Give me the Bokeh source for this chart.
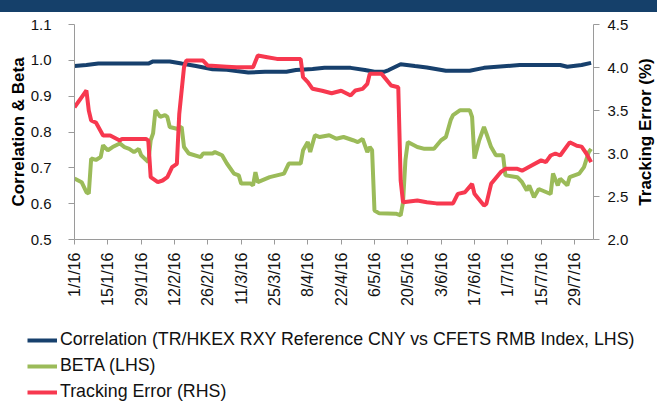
import pandas as pd
from bokeh.plotting import figure
from bokeh.models import (Range1d, LinearAxis, FixedTicker, NumeralTickFormatter,
                          Legend, LegendItem, Div)
from bokeh.layouts import column, row
from bokeh.embed import file_html
from bokeh.resources import INLINE

START = "2016-01-01"
X_END = "2016-08-06"

corr_dates = ["2016-01-01", "2016-01-06", "2016-01-11", "2016-02-01", "2016-02-03", "2016-02-10",
              "2016-02-15", "2016-02-21", "2016-02-28", "2016-03-05", "2016-03-09", "2016-03-14",
              "2016-03-21", "2016-03-30", "2016-04-03", "2016-04-10", "2016-04-15", "2016-04-26",
              "2016-05-02", "2016-05-06", "2016-05-10", "2016-05-12", "2016-05-17", "2016-05-23",
              "2016-05-28", "2016-06-05", "2016-06-15", "2016-06-21", "2016-07-06", "2016-07-23",
              "2016-07-26", "2016-08-01", "2016-08-05"]
corr_values = [0.984, 0.987, 0.991, 0.991, 0.997, 0.997, 0.991, 0.984, 0.975, 0.974, 0.970, 0.966,
               0.968, 0.968, 0.973, 0.976, 0.979, 0.979, 0.973, 0.968, 0.968, 0.973, 0.989, 0.984,
               0.980, 0.971, 0.971, 0.979, 0.987, 0.987, 0.982, 0.987, 0.993]

beta_dates = ["2016-01-01", "2016-01-04", "2016-01-06", "2016-01-07", "2016-01-08", "2016-01-10",
              "2016-01-12", "2016-01-13", "2016-01-15", "2016-01-17", "2016-01-20", "2016-01-22",
              "2016-01-24", "2016-01-26", "2016-01-28", "2016-01-29", "2016-02-01", "2016-02-02",
              "2016-02-03", "2016-02-04", "2016-02-06", "2016-02-08", "2016-02-09", "2016-02-10",
              "2016-02-13", "2016-02-15", "2016-02-16", "2016-02-18", "2016-02-23", "2016-02-24",
              "2016-02-28", "2016-02-29", "2016-03-03", "2016-03-05", "2016-03-08", "2016-03-10",
              "2016-03-11", "2016-03-15", "2016-03-16", "2016-03-17", "2016-03-18", "2016-03-23",
              "2016-03-29", "2016-03-31", "2016-04-05", "2016-04-06", "2016-04-08", "2016-04-09",
              "2016-04-11", "2016-04-13", "2016-04-17", "2016-04-20", "2016-04-23", "2016-04-27",
              "2016-04-29", "2016-05-01", "2016-05-03", "2016-05-04", "2016-05-05", "2016-05-06",
              "2016-05-08", "2016-05-15", "2016-05-17", "2016-05-18", "2016-05-19", "2016-05-20",
              "2016-05-24", "2016-05-27", "2016-05-31", "2016-06-03", "2016-06-05", "2016-06-07",
              "2016-06-08", "2016-06-11", "2016-06-15", "2016-06-16", "2016-06-17", "2016-06-19",
              "2016-06-21", "2016-06-22", "2016-06-24", "2016-06-26", "2016-06-29", "2016-06-30",
              "2016-07-05", "2016-07-07", "2016-07-09", "2016-07-10", "2016-07-12", "2016-07-14",
              "2016-07-19", "2016-07-20", "2016-07-22", "2016-07-23", "2016-07-26", "2016-07-27",
              "2016-07-31", "2016-08-02", "2016-08-04", "2016-08-05"]
beta_values = [0.670, 0.660, 0.632, 0.628, 0.726, 0.722, 0.730, 0.763, 0.749, 0.758, 0.768, 0.758,
               0.753, 0.744, 0.753, 0.735, 0.716, 0.777, 0.796, 0.861, 0.842, 0.847, 0.842, 0.814,
               0.809, 0.814, 0.758, 0.740, 0.730, 0.740, 0.740, 0.744, 0.735, 0.712, 0.684, 0.679,
               0.656, 0.656, 0.651, 0.688, 0.660, 0.674, 0.684, 0.712, 0.712, 0.749, 0.772, 0.744,
               0.791, 0.786, 0.791, 0.781, 0.786, 0.777, 0.772, 0.781, 0.744, 0.758, 0.749, 0.581,
               0.573, 0.572, 0.567, 0.604, 0.721, 0.772, 0.758, 0.753, 0.753, 0.777, 0.786, 0.833,
               0.847, 0.861, 0.861, 0.842, 0.726, 0.777, 0.814, 0.796, 0.758, 0.735, 0.735, 0.679,
               0.674, 0.660, 0.637, 0.651, 0.618, 0.641, 0.627, 0.684, 0.651, 0.670, 0.651, 0.674,
               0.684, 0.702, 0.744, 0.753]

te_dates = ["2016-01-01", "2016-01-05", "2016-01-06", "2016-01-07", "2016-01-08", "2016-01-10",
            "2016-01-13", "2016-01-16", "2016-01-20", "2016-01-21", "2016-01-31", "2016-02-01",
            "2016-02-02", "2016-02-05", "2016-02-07", "2016-02-09", "2016-02-11", "2016-02-13",
            "2016-02-14", "2016-02-16", "2016-02-17", "2016-02-24", "2016-02-26", "2016-03-05",
            "2016-03-09", "2016-03-16", "2016-03-18", "2016-03-22", "2016-03-26", "2016-04-05",
            "2016-04-06", "2016-04-08", "2016-04-10", "2016-04-14", "2016-04-18", "2016-04-22",
            "2016-04-26", "2016-04-28", "2016-05-01", "2016-05-03", "2016-05-04", "2016-05-09",
            "2016-05-13", "2016-05-16", "2016-05-17", "2016-05-18", "2016-05-24", "2016-05-28",
            "2016-06-01", "2016-06-08", "2016-06-10", "2016-06-13", "2016-06-16", "2016-06-17",
            "2016-06-21", "2016-06-22", "2016-06-24", "2016-06-28", "2016-06-30", "2016-07-05",
            "2016-07-07", "2016-07-11", "2016-07-15", "2016-07-17", "2016-07-19", "2016-07-21",
            "2016-07-23", "2016-07-27", "2016-07-30", "2016-08-01", "2016-08-03", "2016-08-05"]
te_values = [3.538, 3.694, 3.733, 3.50, 3.384, 3.36, 3.21, 3.21, 3.151, 3.17, 3.17, 3.15,
             2.725, 2.667, 2.686, 2.725, 2.841, 2.88, 3.46, 4.003, 4.081, 4.081, 4.023, 4.01,
             4.003, 4.003, 4.14, 4.12, 4.10, 4.10, 3.887, 3.83, 3.752, 3.73, 3.70, 3.73,
             3.675, 3.733, 3.752, 3.81, 3.926, 3.926, 3.79, 3.77, 2.686, 2.434, 2.453, 2.434,
             2.42, 2.42, 2.531, 2.55, 2.647, 2.531, 2.395, 2.414, 2.647, 2.783, 2.822, 2.822,
             2.80, 2.86, 2.92, 2.90, 2.977, 3.00, 2.977, 3.13, 3.09, 3.08, 3.00, 2.90]

tick_dates = ["2016-01-01", "2016-01-15", "2016-01-29", "2016-02-12", "2016-02-26", "2016-03-11",
              "2016-03-25", "2016-04-08", "2016-04-22", "2016-05-06", "2016-05-20", "2016-06-03",
              "2016-06-17", "2016-07-01", "2016-07-15", "2016-07-29"]
tick_labels = ["1/1/16", "15/1/16", "29/1/16", "12/2/16", "26/2/16", "11/3/16", "25/3/16",
               "8/4/16", "22/4/16", "6/5/16", "20/5/16", "3/6/16", "17/6/16", "1/7/16",
               "15/7/16", "29/7/16"]
left_ticks = [0.5, 0.6, 0.7, 0.8, 0.9, 1.0, 1.1]
right_ticks = [2.0, 2.5, 3.0, 3.5, 4.0, 4.5]

series_names = ["Correlation (TR/HKEX RXY Reference CNY vs CFETS RMB Index, LHS)",
                "BETA (LHS)", "Tracking Error (RHS)"]
left_title = "Correlation & Beta"
right_title = "Tracking Error (%)"


def to_days(dates):
    t0 = pd.Timestamp(START)
    return [(pd.Timestamp(d) - t0).days for d in dates]


FONT = "Liberation Sans"
NAVY = "#17406D"
GREEN = "#9BBB59"
RED = "#F7384F"
AXIS = "#9A9A9A"
LW = 4
HALF_PI = 3.14159265 / 2

W = 657
TITLE_W = 26
BAR_H = 12
MAIN_H = 308
LEG_H = 83
MAIN_W = W - TITLE_W

p = figure(width=MAIN_W, height=MAIN_H, output_backend="svg", toolbar_location=None,
           x_range=Range1d(0, to_days([X_END])[0]), y_range=Range1d(0.5, 1.1),
           min_border_left=74, min_border_right=MAIN_W - 593, min_border_top=12,
           min_border_bottom=81, background_fill_color="white", border_fill_color="white")
p.frame_align = False
p.outline_line_color = None
p.xgrid.visible = False
p.ygrid.visible = False
p.extra_y_ranges = {"te": Range1d(2.0, 4.5)}

p.line(to_days(corr_dates), corr_values, line_color=NAVY, line_width=LW)
p.line(to_days(beta_dates), beta_values, line_color=GREEN, line_width=LW)
p.line(to_days(te_dates), te_values, line_color=RED, line_width=LW, y_range_name="te")

# x axis
xa = p.xaxis[0]
xticks = to_days(tick_dates)
xa.ticker = FixedTicker(ticks=xticks)
xa.major_label_overrides = {t: lab for t, lab in zip(xticks, tick_labels)}
xa.major_label_orientation = HALF_PI
xa.minor_tick_line_color = None
xa.major_tick_in = 0
xa.major_tick_out = 5
xa.major_label_standoff = 8
xa.axis_line_color = AXIS
xa.major_tick_line_color = AXIS
xa.major_label_text_font = FONT
xa.major_label_text_font_size = "16px"
xa.major_label_text_color = "#111111"

# left axis
ya = p.yaxis[0]
ya.ticker = FixedTicker(ticks=left_ticks)
ya.formatter = NumeralTickFormatter(format="0.0")
ya.minor_tick_line_color = None
ya.major_tick_in = 0
ya.major_tick_out = 6
ya.major_label_standoff = 17
ya.axis_line_color = AXIS
ya.major_tick_line_color = AXIS
ya.major_label_text_font = FONT
ya.major_label_text_font_size = "15px"
ya.major_label_text_color = "#111111"
ya.axis_label = left_title
ya.axis_label_text_font = FONT
ya.axis_label_text_font_style = "bold"
ya.axis_label_text_font_size = "17px"
ya.axis_label_text_color = "#000000"
ya.axis_label_standoff = 0

# right axis (ticks and labels)
ra = LinearAxis(y_range_name="te")
ra.ticker = FixedTicker(ticks=right_ticks)
ra.formatter = NumeralTickFormatter(format="0.0")
ra.minor_tick_line_color = None
ra.major_tick_in = 0
ra.major_tick_out = 6
ra.major_label_standoff = 8
ra.axis_line_color = AXIS
ra.major_tick_line_color = AXIS
ra.major_label_text_font = FONT
ra.major_label_text_font_size = "15px"
ra.major_label_text_color = "#111111"
p.add_layout(ra, "right")

# right axis title: a slim figure whose left axis carries the title (reads bottom-to-top)
q = figure(width=TITLE_W, height=MAIN_H, output_backend="svg", toolbar_location=None,
           x_range=Range1d(0, 1), y_range=Range1d(0, 1), x_axis_type=None,
           min_border_left=TITLE_W - 3, min_border_right=0, min_border_top=12,
           min_border_bottom=81, background_fill_color="white", border_fill_color="white")
q.frame_align = False
q.outline_line_color = None
q.xgrid.visible = False
q.ygrid.visible = False
qa = q.yaxis[0]
qa.ticker = FixedTicker(ticks=[])
qa.axis_line_color = None
qa.major_tick_line_color = None
qa.minor_tick_line_color = None
qa.major_label_text_font_size = "0px"
qa.major_label_standoff = 0
qa.axis_label = right_title
qa.axis_label_text_font = FONT
qa.axis_label_text_font_style = "bold"
qa.axis_label_text_font_size = "17px"
qa.axis_label_text_color = "#000000"
qa.axis_label_standoff = 0

# legend panel (separate figure whose frame covers the whole canvas)
lg = figure(width=W, height=LEG_H, output_backend="svg", toolbar_location=None,
            x_range=Range1d(0, 1), y_range=Range1d(0, 1),
            x_axis_type=None, y_axis_type=None,
            min_border=0, min_border_left=0, min_border_right=0,
            min_border_top=0, min_border_bottom=0,
            background_fill_color="white", border_fill_color="white")
lg.frame_align = False
lg.outline_line_color = None
lg.xgrid.visible = False
lg.ygrid.visible = False
nan = float("nan")
k_corr = lg.line([nan], [nan], line_color=NAVY, line_width=LW)
k_beta = lg.line([nan], [nan], line_color=GREEN, line_width=LW)
k_te = lg.line([nan], [nan], line_color=RED, line_width=LW)

legend = Legend(items=[LegendItem(label=series_names[0], renderers=[k_corr]),
                       LegendItem(label=series_names[1], renderers=[k_beta]),
                       LegendItem(label=series_names[2], renderers=[k_te])],
                location=(27, 1), orientation="vertical",
                glyph_width=30, glyph_height=20, label_height=20, label_standoff=3,
                spacing=5, padding=0, margin=0,
                border_line_color=None, background_fill_alpha=0,
                label_text_font=FONT, label_text_font_size="17.8px",
                label_text_color="#111111")
lg.add_layout(legend)

bar = Div(text="", width=W, height=BAR_H, margin=0,
          styles={"background-color": "#15406A"})
layout = column(bar, row(p, q, spacing=0), lg, spacing=0)

open("out.html", "w").write(file_html(layout, INLINE))
